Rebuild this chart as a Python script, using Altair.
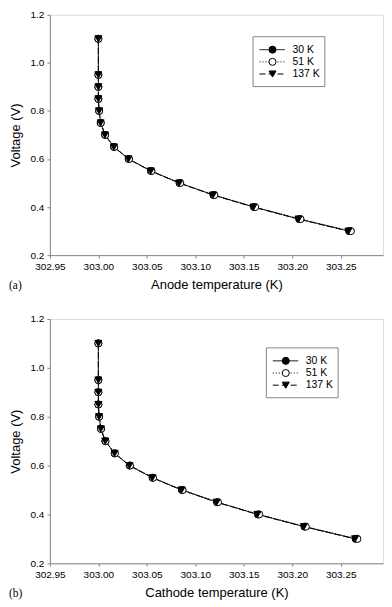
import altair as alt
import pandas as pd

series_names = ["30 K", "51 K", "137 K"]
voltage = [1.10, 0.95, 0.90, 0.85, 0.80, 0.75, 0.70, 0.65, 0.60, 0.55, 0.50, 0.45, 0.40, 0.35, 0.30]

# Anode temperature (K), panel (a)
anode_30 = [303.0000, 303.0000, 303.0000, 303.0000, 303.0007, 303.0024, 303.0069, 303.0161,
            303.0312, 303.0542, 303.0837, 303.1187, 303.1605, 303.2071, 303.2586]
anode_51 = [303.0000, 303.0000, 303.0000, 303.0000, 303.0008, 303.0025, 303.0071, 303.0164,
            303.0317, 303.0548, 303.0845, 303.1197, 303.1618, 303.2085, 303.2605]
anode_137 = [303.0000, 303.0000, 303.0000, 303.0000, 303.0007, 303.0023, 303.0068, 303.0160,
             303.0310, 303.0540, 303.0834, 303.1183, 303.1600, 303.2065, 303.2580]

# Cathode temperature (K), panel (b)
cathode_30 = [303.0000, 303.0000, 303.0000, 303.0000, 303.0007, 303.0027, 303.0072, 303.0168,
              303.0322, 303.0559, 303.0861, 303.1224, 303.1646, 303.2126, 303.2654]
cathode_51 = [303.0000, 303.0000, 303.0000, 303.0000, 303.0008, 303.0028, 303.0074, 303.0171,
              303.0327, 303.0565, 303.0869, 303.1234, 303.1659, 303.2140, 303.2672]
cathode_137 = [303.0000, 303.0000, 303.0000, 303.0000, 303.0007, 303.0026, 303.0071, 303.0167,
               303.0320, 303.0557, 303.0858, 303.1220, 303.1641, 303.2120, 303.2648]

x_ticks = [302.95, 303.00, 303.05, 303.10, 303.15, 303.20, 303.25]
y_ticks = [0.2, 0.4, 0.6, 0.8, 1.0, 1.2]
x_domain = [302.95, 303.2936]
y_domain = [0.2, 1.2]

FONT = "Liberation Sans"
GRAY = "#858585"
dash_range = [[1, 0], [1, 2], [6, 3]]
shape_range = ["circle", "circle", "triangle-down"]
fill_range = ["black", "white", "black"]

W = 334
PT = 50


def long_df(a, b, c):
    rows = []
    for name, vals in zip(series_names, [a, b, c]):
        for t, v in zip(vals, voltage):
            rows.append({"series": name, "T": t, "V": v})
    return pd.DataFrame(rows)


def panel(df, xtitle, label, leg_x, leg_y, H):
    x_enc = alt.X("T:Q", scale=alt.Scale(domain=x_domain, nice=False, zero=False),
                  axis=alt.Axis(values=x_ticks, format=".2f", title=xtitle, grid=False,
                                tickSize=3, labelPadding=3, titlePadding=7, labelFlush=False,
                                labelOverlap=False,
                                titleFontWeight="normal", titleFontSize=13, labelFontSize=10))
    y_enc = alt.Y("V:Q", scale=alt.Scale(domain=y_domain, nice=False, zero=False),
                  axis=alt.Axis(values=y_ticks, format=".1f", title="Voltage (V)", grid=False,
                                tickSize=3, labelPadding=3, titlePadding=8, labelFlush=False,
                                labelOverlap=False,
                                titleFontWeight="normal", titleFontSize=13, labelFontSize=10))
    dash_scale = alt.Scale(domain=series_names, range=dash_range)
    lines = alt.Chart(df).mark_line(color="black", strokeWidth=1).encode(
        x=x_enc, y=y_enc,
        strokeDash=alt.StrokeDash("series:N", scale=dash_scale, legend=None),
        detail="series:N",
    )
    pts = alt.Chart(df).mark_point(filled=False, stroke="black", strokeWidth=1, size=PT, opacity=1).encode(
        x="T:Q", y="V:Q",
        shape=alt.Shape("series:N", scale=alt.Scale(domain=series_names, range=shape_range), legend=None),
        fill=alt.Fill("series:N", scale=alt.Scale(domain=series_names, range=fill_range), legend=None),
        order=alt.Order("ord:Q"),
    ).transform_calculate(ord="indexof(['30 K','51 K','137 K'], datum.series)")

    layers = [lines, pts]

    # legend box
    box_w, box_h = 72, 50
    one = pd.DataFrame({"k": [0]})
    layers.append(alt.Chart(one).mark_rect(fill="white", stroke=GRAY, strokeWidth=1).encode(
        x=alt.value(leg_x), x2=alt.value(leg_x + box_w),
        y=alt.value(leg_y), y2=alt.value(leg_y + box_h)))
    for i, name in enumerate(series_names):
        ry = leg_y + 13 + i * 12.2
        row = pd.DataFrame({"series": [name]})
        layers.append(alt.Chart(row).mark_rule(color="black", strokeWidth=1,
                                               strokeDash=dash_range[i]).encode(
            x=alt.value(leg_x + 6.5), x2=alt.value(leg_x + 32), y=alt.value(ry)))
        layers.append(alt.Chart(row).mark_point(shape=shape_range[i], fill=fill_range[i], filled=True,
                                                stroke="black", strokeWidth=1, size=PT, opacity=1).encode(
            x=alt.value(leg_x + 19.5), y=alt.value(ry)))
        layers.append(alt.Chart(row).mark_text(align="left", baseline="middle", font=FONT,
                                               fontSize=10.5, color="black").encode(
            x=alt.value(leg_x + 39.5), y=alt.value(ry), text="series:N"))

    layers.append(alt.Chart(pd.DataFrame({"t": [label]})).mark_text(
        align="left", baseline="middle", font="Liberation Serif", fontSize=11.5, color="black").encode(
        x=alt.value(-41), y=alt.value(H + 31), text="t:N"))

    return alt.layer(*layers).properties(width=W, height=H)


top = panel(long_df(anode_30, anode_51, anode_137), "Anode temperature (K)", "(a)", 203.7, 22, 241)
bottom = panel(long_df(cathode_30, cathode_51, cathode_137), "Cathode temperature (K)", "(b)", 217, 29, 245)

chart = alt.vconcat(top, bottom, spacing=21, padding={"left": 0, "top": 0, "right": 0, "bottom": 0}
).configure_view(
    stroke=GRAY, strokeWidth=1
).configure_axis(
    domainColor=GRAY, tickColor=GRAY, labelFont=FONT, titleFont=FONT,
    labelFontSize=10, titleFontSize=13, titleFontWeight="normal",
    labelColor="black", titleColor="black",
).configure(background="white")

chart.save("out.html", embed_options={"renderer": "svg", "actions": False})
